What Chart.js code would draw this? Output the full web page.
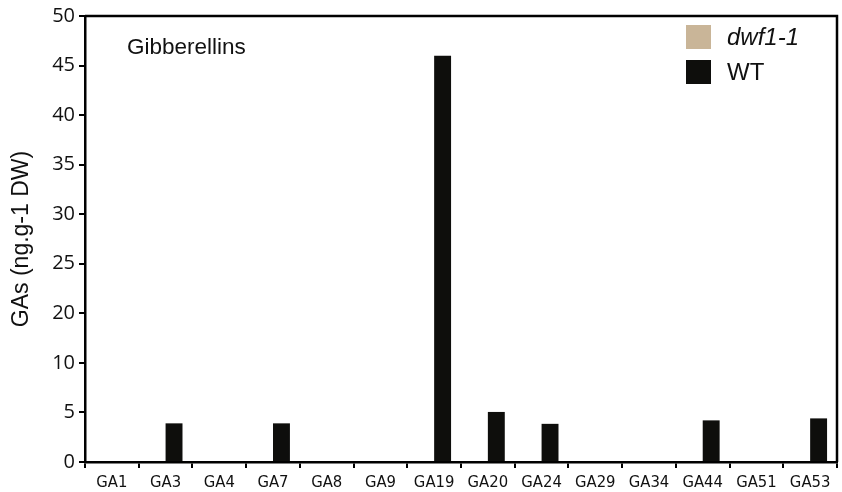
<!DOCTYPE html>
<html>
<head>
<meta charset="utf-8">
<script src="https://cdn.jsdelivr.net/npm/chart.js@4"></script>
<style>
  html, body { margin: 0; padding: 0; background: #ffffff; }
  #wrap { width: 842px; height: 492px; }
</style>
</head>
<body>
<div id="wrap"><canvas id="c" width="842" height="492"></canvas></div>
<script>
// ---- data ----
const categories = ['GA1','GA3','GA4','GA7','GA8','GA9','GA19','GA20','GA24','GA29','GA34','GA44','GA51','GA53'];
// Values in the axis' own units (the printed axis skips the "15" label,
// so gridline positions 0..45 carry the labels below).
const wtValues   = [0, 3.9, 0, 3.9, 0, 0, 41.0, 5.05, 3.85, 0, 0, 4.2, 0, 4.4];
const dwfValues  = [0, 0, 0, 0, 0, 0, 0, 0, 0, 0, 0, 0, 0, 0];
const yTickLabels = ['0','5','10','20','25','30','35','40','45','50'];
const seriesNames = ['dwf1-1', 'WT'];
const panelTitle = 'Gibberellins';
const yAxisTitle = 'GAs (ng.g-1 DW)';

const colDwf = '#c9b598';
const colWT = '#0e0e0c';

const framePlugin = {
  id: 'frame',
  afterDraw(chart) {
    const ctx = chart.ctx, a = chart.chartArea;
    ctx.save();
    ctx.strokeStyle = '#000';
    ctx.lineWidth = 2.5;
    ctx.beginPath();
    ctx.moveTo(a.left, a.top);
    ctx.lineTo(a.right, a.top);
    ctx.lineTo(a.right, a.bottom);
    ctx.stroke();
    // panel title
    ctx.fillStyle = '#111';
    ctx.font = '22.5px "Liberation Sans", Arial, sans-serif';
    ctx.textBaseline = 'middle';
    ctx.textAlign = 'left';
    ctx.fillText(panelTitle, 127, 48);
    // legend
    const ds = chart.data.datasets;
    const boxes = [{y: 25}, {y: 60}];
    ds.forEach((d, i) => {
      ctx.fillStyle = d.backgroundColor;
      ctx.fillRect(686, boxes[i].y, 25, 24);
      ctx.fillStyle = '#111';
      ctx.font = (i === 0 ? 'italic ' : '') + '24px "Liberation Sans", Arial, sans-serif';
      ctx.fillText(d.label, 727, boxes[i].y + 13);
    });
    ctx.restore();
  }
};

new Chart(document.getElementById('c'), {
  type: 'bar',
  data: {
    labels: categories,
    datasets: [
      { label: seriesNames[0], data: dwfValues, backgroundColor: colDwf, borderWidth: 0 },
      { label: seriesNames[1], data: wtValues, backgroundColor: colWT, borderWidth: 0 }
    ]
  },
  options: {
    responsive: false,
    animation: false,
    devicePixelRatio: 1,
    layout: { padding: { top: 15, right: 5, left: 0, bottom: 0 } },
    categoryPercentage: 0.63,
    barPercentage: 1.0,
    plugins: { legend: { display: false }, tooltip: { enabled: false }, title: { display: false } },
    scales: {
      x: {
        offset: true,
        grid: { offset: true, drawOnChartArea: false, drawTicks: true, tickLength: 6, color: '#000', lineWidth: 2 },
        border: { display: true, color: '#000', width: 2.5 },
        ticks: { color: '#111', font: { family: '"DejaVu Sans Condensed", sans-serif', size: 16.5 }, padding: 5, maxRotation: 0, autoSkip: false },
        afterFit(s) { s.height = 30; }
      },
      y: {
        min: 0, max: 45,
        ticks: {
          stepSize: 5,
          color: '#111',
          font: { family: '"Open Sans", sans-serif', size: 20 },
          padding: 4,
          callback: (v, i) => yTickLabels[i]
        },
        grid: { drawOnChartArea: false, drawTicks: true, tickLength: 6, color: '#000', lineWidth: 2 },
        border: { display: true, color: '#000', width: 2.5 },
        title: { display: true, text: yAxisTitle, color: '#111', font: { family: '"Liberation Sans", Arial, sans-serif', size: 23 }, padding: { top: 8, bottom: 0 } },
        afterFit(s) { s.width = 85; }
      }
    }
  },
  plugins: [framePlugin]
});
</script>
</body>
</html>
